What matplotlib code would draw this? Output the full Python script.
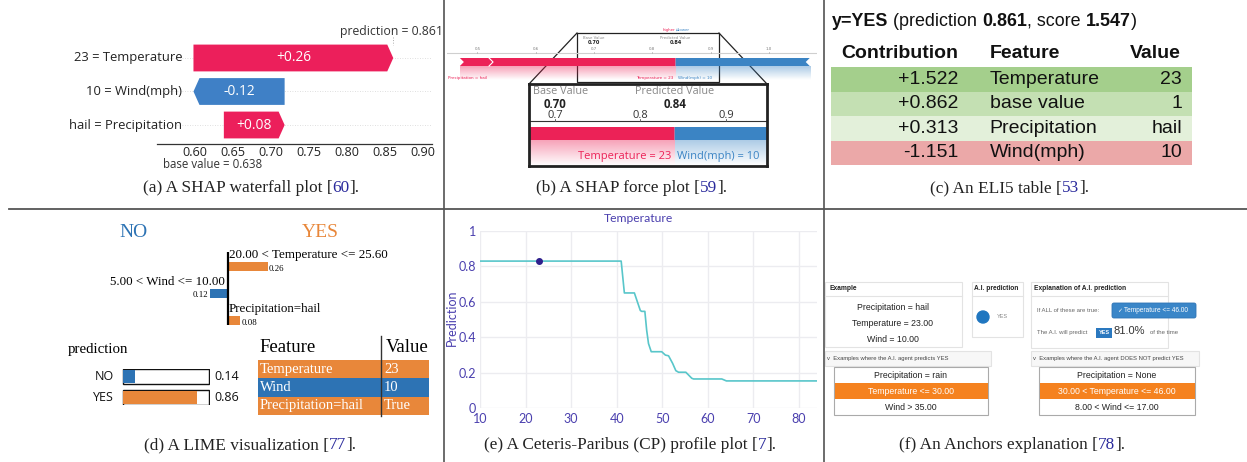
import numpy as np
import matplotlib
matplotlib.use("Agg")
import matplotlib.pyplot as plt
import matplotlib.colors as mcolors
from matplotlib.patches import Polygon, Rectangle, FancyBboxPatch, Circle
from matplotlib.transforms import Bbox

# ======================= DATA =======================
# (a) SHAP waterfall
wf_features = ["Temperature", "Wind(mph)", "Precipitation"]
wf_values = ["23", "10", "hail"]
wf_shap = [0.263, -0.12, 0.08]
wf_base = 0.638
wf_ticks = [0.60, 0.65, 0.70, 0.75, 0.80, 0.85, 0.90]

# (b) SHAP force plot
fp_base = 0.70
fp_pred = 0.84
fp_pos_labels = ["Precipitation = hail", "Temperature = 23"]
fp_pos_effects = [0.05, 0.32]
fp_neg_labels = ["Wind(mph) = 10"]
fp_neg_effects = [0.23]
fp_ticks = [0.5, 0.6, 0.7, 0.8, 0.9, 1.0]
fp_zoom_ticks = [0.7, 0.8, 0.9]

# (c) ELI5 table
eli5_prediction = 0.861
eli5_score = 1.547
eli5_contrib = [1.522, 0.862, 0.313, -1.151]
eli5_features = ["Temperature", "base value", "Precipitation", "Wind(mph)"]
eli5_values = ["23", "1", "hail", "10"]

# (d) LIME
lime_classes = ["NO", "YES"]
lime_proba = [0.14, 0.86]
lime_labels = ["20.00 < Temperature <= 25.60", "5.00 < Wind <= 10.00", "Precipitation=hail"]
lime_weights = [0.26, -0.12, 0.08]
lime_table_features = ["Temperature", "Wind", "Precipitation=hail"]
lime_table_values = ["23", "10", "True"]

# (e) Ceteris-Paribus profile
cp_temperature = [10.0, 41.0, 41.7, 43.9, 45.2, 45.5, 46.2, 46.6, 47.0, 47.6, 49.9,
                  50.7, 51.4, 52.3, 53.0, 53.6, 55.2, 56.5, 56.9, 63.1, 64.1, 84.0]
cp_prediction = [0.83, 0.83, 0.65, 0.65, 0.551, 0.546, 0.546, 0.439, 0.364, 0.318, 0.318,
                 0.299, 0.295, 0.252, 0.211, 0.202, 0.202, 0.168, 0.164, 0.164, 0.153, 0.153]
cp_obs_x = 23
cp_obs_y = 0.83
cp_xticks = [10, 20, 30, 40, 50, 60, 70, 80]
cp_yticks = [0, 0.2, 0.4, 0.6, 0.8, 1]

# (f) Anchors
anc_example = ["Precipitation = hail", "Temperature = 23.00", "Wind = 10.00"]
anc_prediction = "YES"
anc_anchor = "Temperature <= 46.00"
anc_precision = 81.0
anc_yes_examples = ["Precipitation = rain", "Temperature <= 30.00", "Wind > 35.00"]
anc_no_examples = ["Precipitation = None", "30.00 < Temperature <= 46.00", "8.00 < Wind <= 17.00"]
anc_highlight = 1

captions = [
    ("(a) A SHAP waterfall plot [", "60", "].", 251, 188),
    ("(b) A SHAP force plot [", "59", "].", 632, 188),
    ("(c) An ELI5 table [", "53", "].", 1010, 188),
    ("(d) A LIME visualization [", "77", "].", 250, 445),
    ("(e) A Ceteris-Paribus (CP) profile plot [", "7", "].", 630, 445),
    ("(f) An Anchors explanation [", "78", "].", 1012, 445),
]

# ======================= SETUP =======================
W, H = 1247, 462
fig = plt.figure(figsize=(W / 100, H / 100), dpi=100)
renderer = fig.canvas.get_renderer()


def fx(x):
    return x / W


def fy(y):
    return 1 - y / H


def add_ax(x0, y0, x1, y1):
    return fig.add_axes([x0 / W, 1 - y1 / H, (x1 - x0) / W, (y1 - y0) / H])


def text_width(s, **props):
    t = fig.text(0, 0, "|" + s + "|", **props)
    w1 = t.get_window_extent(renderer).width
    t.set_text("||")
    w2 = t.get_window_extent(renderer).width
    t.remove()
    return w1 - w2


def rich(parts, x, y, ha="center", va="center", **common):
    widths = [text_width(s, **{**common, **p}) for s, p in parts]
    total = sum(widths)
    cur = x - total / 2 if ha == "center" else (x if ha == "left" else x - total)
    for (s, p), w in zip(parts, widths):
        fig.text(fx(cur), fy(y), s, ha="left", va=va, **{**common, **p})
        cur += w


canvas = add_ax(0, 0, W, H)
canvas.set_xlim(0, W)
canvas.set_ylim(H, 0)
canvas.axis("off")

# dividers
canvas.plot([444, 444], [0, H], color="#444", lw=1.1)
canvas.plot([824, 824], [0, H], color="#444", lw=1.1)
canvas.plot([9, W], [209, 209], color="#555", lw=1.3)

# captions
CITE = "#2a2a9c"
for pre, num, post, cx, cy in captions:
    rich([(pre, {}), (num, {"color": CITE}), (post, {})], cx, cy,
         family="Liberation Serif", fontsize=12.4, color="#222")

# ======================= (a) SHAP waterfall =======================
RED = "#ec1f5b"
BLUE = "#3f80c6"
axa = add_ax(157, 40, 432, 143.5)
axa.set_xlim(0.55, 0.912)
axa.set_ylim(2.552, -0.537)
axa.patch.set_alpha(0)
for s in ["top", "left", "right"]:
    axa.spines[s].set_visible(False)
axa.spines["bottom"].set_color("#333")
axa.spines["bottom"].set_linewidth(0.9)
axa.set_yticks([])
axa.set_xticks(wf_ticks)
axa.set_xticklabels([f"{t:.2f}" for t in wf_ticks], fontsize=9.1, family="Open Sans", color="#222")
axa.tick_params(axis="x", length=0, pad=2)
px_a = 0.362 / 275
hl = 6 * px_a
bh = 0.8
cur = wf_base
starts, ends = [0] * 3, [0] * 3
for i in reversed(range(len(wf_shap))):
    starts[i] = cur
    cur += wf_shap[i]
    ends[i] = cur
wf_pred = cur
for i in range(len(wf_shap)):
    x0, x1 = starts[i], ends[i]
    d = np.sign(x1 - x0) * min(hl, abs(x1 - x0))
    poly = [(x0, i - bh / 2), (x1 - d, i - bh / 2), (x1, i), (x1 - d, i + bh / 2), (x0, i + bh / 2)]
    axa.add_patch(Polygon(poly, closed=True, fc=RED if x1 > x0 else BLUE, ec="none", zorder=2))
    axa.text((x0 + x1) / 2, i, f"{wf_shap[i]:+.2f}", ha="center", va="center", color="white",
             fontsize=9.9, family="Open Sans", zorder=3)
    axa.axhline(i, color="#d5d5d5", lw=0.6, ls=(0, (1, 2)), zorder=0)
    axa.text(0.583, i, f"{wf_values[i]} = {wf_features[i]}", ha="right", va="center",
             fontsize=9.4, family="Open Sans", color="#222", zorder=3)
axa.plot([wf_pred, wf_pred], [-0.62, -0.4], color="#aaa", lw=0.7, ls=":", clip_on=False)
t = fig.text(fx(340), fy(32), f"prediction = {wf_pred:.3f}", ha="left", va="center",
             fontsize=8.8, family="Open Sans", color="#333")
t.set_clip_box(Bbox([[0, 0], [441, H]]))
t.set_clip_on(True)
fig.text(fx(163), fy(164), f"base value = {wf_base:.3f}", ha="left", va="center",
         fontsize=8.3, family="Open Sans", color="#333")

# ======================= (b) SHAP force =======================
FRED = "#ec2257"
FBLUE = "#3b84c4"


def gradient(ax, x0, x1, ytop, ybot, color, a0=0.42):
    rgb = mcolors.to_rgb(color)
    n = 60
    arr = np.zeros((n, 1, 4))
    arr[..., :3] = rgb
    arr[:, 0, 3] = np.linspace(a0, 0, n)
    ax.imshow(arr, extent=(x0, x1, ybot, ytop), origin="upper", aspect="auto",
              interpolation="bilinear", zorder=1)


def force_bars(ax, ytop, ybot, grad_bot, notch):
    ymid = (ytop + ybot) / 2
    left = fp_pred - sum(fp_pos_effects)
    right = fp_pred + sum(fp_neg_effects)
    ax.add_patch(Polygon([(left, ytop), (fp_pred, ytop), (fp_pred, ybot), (left, ybot),
                          (left + notch, ymid)], closed=True, fc=FRED, ec="none", zorder=2))
    ax.add_patch(Polygon([(fp_pred, ytop), (right, ytop), (right - notch, ymid), (right, ybot),
                          (fp_pred, ybot)], closed=True, fc=FBLUE, ec="none", zorder=2))
    b = left
    for e in fp_pos_effects[:-1]:
        b += e
        ax.plot([b, b + notch, b], [ytop, ymid, ybot], color="white", lw=0.8, zorder=3)
    gradient(ax, left, fp_pred, ybot, grad_bot, FRED)
    gradient(ax, fp_pred, right, ybot, grad_bot, FBLUE)


axb = add_ax(447, 25, 817, 86)
xlb = (0.4479, 1.0825)
axb.axis("off")
force_bars(axb, 58, 66, 80, 4 / 583)
axb.plot(xlb, [53, 53], color="#cfcfcf", lw=0.8)
for tk in fp_ticks:
    axb.plot([tk, tk], [51.5, 53], color="#aaa", lw=0.5)
    axb.text(tk, 49, f"{tk:.1f}", ha="center", va="center", fontsize=2.8, color="#777")
axb.text(xlb[0] + 0.002, 78, fp_pos_labels[0], ha="left", va="center", fontsize=3.0, color=FRED)
axb.text(fp_pred - 0.004, 78, fp_pos_labels[1], ha="right", va="center", fontsize=3.0, color=FRED)
axb.text(fp_pred + 0.004, 78, fp_neg_labels[0], ha="left", va="center", fontsize=3.0, color=FBLUE)
axb.text(fp_base, 38, "Base Value", ha="center", va="center", fontsize=2.8, color="#888")
axb.text(fp_base, 43, f"{fp_base:.2f}", ha="center", va="center", fontsize=3.6, weight="bold", color="#222")
axb.text(fp_pred, 38, "Predicted Value", ha="center", va="center", fontsize=2.8, color="#888")
axb.text(fp_pred, 43, f"{fp_pred:.2f}", ha="center", va="center", fontsize=3.6, weight="bold", color="#222")
axb.text(fp_pred, 30, "higher", ha="right", va="center", fontsize=2.8, color=FRED)
axb.text(fp_pred, 30, "\u21c4lower", ha="left", va="center", fontsize=2.8, color=FBLUE)
axb.set_xlim(*xlb)
axb.set_ylim(86, 25)

# zoom indicator
canvas.add_patch(Rectangle((577, 33), 142, 49, fc="none", ec="#222", lw=0.9))
canvas.plot([577, 529], [33, 84], color="#222", lw=0.9)
canvas.plot([719, 767], [33, 84], color="#222", lw=0.9)

axz = add_ax(529, 84, 767, 166)
xlz = (0.6696, 0.948)
axz.set_xticks([])
axz.set_yticks([])
for s in axz.spines.values():
    s.set_linewidth(2)
    s.set_color("#222")
force_bars(axz, 127, 140, 166, 6 / 855)
axz.plot(xlz, [121, 121], color="#333", lw=0.8)
for tk in fp_zoom_ticks:
    axz.plot([tk, tk], [119, 121], color="#555", lw=0.6)
    axz.text(tk, 115.5, f"{tk:.1f}", ha="center", va="center", fontsize=8, family="Open Sans", color="#333")
axz.text(fp_base + 0.006, 92, "Base Value", ha="center", va="center", fontsize=7.8, family="Open Sans", color="#888")
axz.text(fp_base, 104, f"{fp_base:.2f}", ha="center", va="center", fontsize=8.3, family="Open Sans",
         weight="bold", color="#222")
axz.text(fp_pred, 92, "Predicted Value", ha="center", va="center", fontsize=7.8, family="Open Sans", color="#888")
axz.text(fp_pred, 104, f"{fp_pred:.2f}", ha="center", va="center", fontsize=8.3, family="Open Sans",
         weight="bold", color="#222")
axz.text(fp_pred - 0.004, 157, fp_pos_labels[1], ha="right", va="center", fontsize=8,
         family="Open Sans", color=FRED)
axz.text(fp_pred + 0.003, 157, fp_neg_labels[0], ha="left", va="center", fontsize=8,
         family="Open Sans", color=FBLUE)
axz.set_xlim(*xlz)
axz.set_ylim(166, 84)

# ======================= (c) ELI5 =======================
SANS = "Liberation Sans"
TFS = 14
rich([("y=YES", {"weight": "bold"}), (" (prediction ", {}), (f"{eli5_prediction:.3f}", {"weight": "bold"}),
      (", score ", {}), (f"{eli5_score:.3f}", {"weight": "bold"}), (")", {})],
     832, 21, ha="left", family=SANS, fontsize=12.9, color="#111")
fig.text(fx(958), fy(53), "Contribution", ha="right", va="center", family=SANS, fontsize=TFS,
         weight="bold", color="#111")
fig.text(fx(990), fy(53), "Feature", ha="left", va="center", family=SANS, fontsize=TFS,
         weight="bold", color="#111")
fig.text(fx(1181), fy(53), "Value", ha="right", va="center", family=SANS, fontsize=TFS,
         weight="bold", color="#111")
eli5_colors = ["#a4cf8c", "#c4e0b3", "#e3f0da", "#eba8a8"]
axc = add_ax(831, 67, 1192, 165)
axc.axis("off")
n = len(eli5_contrib)
axc.barh(range(n), [1] * n, left=0, height=1.0, color=eli5_colors)
for i in range(n):
    axc.text(0.352, i, f"{eli5_contrib[i]:+.3f}", ha="right", va="center", family=SANS, fontsize=TFS, color="#111")
    axc.text(0.44, i, eli5_features[i], ha="left", va="center", family=SANS, fontsize=TFS, color="#111")
    axc.text(0.972, i, eli5_values[i], ha="right", va="center", family=SANS, fontsize=TFS, color="#111")
axc.set_xlim(0, 1)
axc.set_ylim(n - 0.5, -0.5)

# ======================= (d) LIME =======================
SERIF = "Liberation Serif"
LORANGE = "#e8873a"
LBLUE = "#2d73b4"
fig.text(fx(133), fy(233), lime_classes[0], ha="center", va="center", family=SERIF, fontsize=14, color=LBLUE)
fig.text(fx(320), fy(233), lime_classes[1], ha="center", va="center", family=SERIF, fontsize=14, color=LORANGE)

axd = add_ax(150, 252, 330, 325)
axd.axis("off")
lw_colors = [LORANGE if w > 0 else LBLUE for w in lime_weights]
axd.barh(range(3), lime_weights, height=0.33, color=lw_colors)
axd.axvline(0, color="black", lw=1.6)
for i, (lab, w) in enumerate(zip(lime_labels, lime_weights)):
    if w > 0:
        axd.text(0.004, i - 0.43, lab, ha="left", va="center", family=SERIF, fontsize=9.4, color="black")
        axd.text(w + 0.008, i + 0.1, f"{abs(w):.2f}", ha="left", va="center", family=SERIF, fontsize=6.3)
    else:
        axd.text(-0.02, i - 0.43, lab, ha="right", va="center", family=SERIF, fontsize=9.4, color="black")
        axd.text(w - 0.008, i + 0.07, f"{abs(w):.2f}", ha="right", va="center", family=SERIF, fontsize=6.3)
axd.set_xlim(-0.51, 0.667)
axd.set_ylim(2.167, -0.537)

fig.text(fx(68), fy(350), "prediction", ha="left", va="center", family=SERIF, fontsize=10.7)
axp = add_ax(122, 369, 210, 405)
axp.axis("off")
axp.barh(range(2), [1, 1], height=0.71, color="white", edgecolor="#111", lw=1.0)
axp.barh(range(2), lime_proba, height=0.62, left=0.004, color=[LBLUE, LORANGE])
for i, (c, p) in enumerate(zip(lime_classes, lime_proba)):
    axp.text(-0.105, i, c, ha="right", va="center", family="Open Sans", fontsize=9, color="#111")
    axp.text(1.065, i, f"{p:.2f}", ha="left", va="center", family="Open Sans", fontsize=9, color="#111")
axp.set_xlim(-0.012, 1.012)
axp.set_ylim(1.357, -0.357)

fig.text(fx(259), fy(348), "Feature", ha="left", va="center", family=SERIF, fontsize=13.5)
fig.text(fx(386), fy(348), "Value", ha="left", va="center", family=SERIF, fontsize=13.5)
axt = add_ax(258, 360, 429, 415)
axt.axis("off")
axt.barh(range(3), [1, 1, 1], height=1.0, color=lw_colors)
for i, (f_, v_) in enumerate(zip(lime_table_features, lime_table_values)):
    axt.text(0.012, i, f_, ha="left", va="center", family=SERIF, fontsize=10.5, color="white")
    axt.text(0.737, i, v_, ha="left", va="center", family=SERIF, fontsize=10.5, color="white")
axt.plot([0.719, 0.719], [-1.81, 2.55], color="#333", lw=1.0, clip_on=False)
axt.set_xlim(0, 1)
axt.set_ylim(2.5, -0.5)

# ======================= (e) CP profile =======================
CPC = "#4a3fae"
axe = add_ax(480, 231, 817, 408)
axe.plot(cp_temperature, cp_prediction, color="#58c6ca", lw=1.2, zorder=3)
axe.plot([cp_obs_x], [cp_obs_y], "o", color="#2e1f8c", ms=4, zorder=4)
axe.set_xlim(10, 84)
axe.set_ylim(0, 1)
for s in axe.spines.values():
    s.set_visible(False)
axe.grid(True, color="#ececf0", lw=1.0)
axe.set_axisbelow(True)
axe.set_xticks(cp_xticks)
axe.set_yticks(cp_yticks)
axe.set_yticklabels([("%g" % v) for v in cp_yticks])
axe.tick_params(length=0, labelsize=9, labelcolor=CPC)
axe.tick_params(axis="y", pad=3)
axe.tick_params(axis="x", pad=3.5)
for lab in axe.get_xticklabels() + axe.get_yticklabels():
    lab.set_family("Lato")
fig.text(fx(638), fy(219), "Temperature", ha="center", va="center", family="Lato", fontsize=8.7, color=CPC)
fig.text(fx(452), fy(318), "Prediction", ha="center", va="center", rotation=90, family="Lato",
         fontsize=9, color=CPC)

# ======================= (f) Anchors =======================
GRAYT = "#666"
BORDER = "#e3e3e3"
ORANGE = "#f5821f"
ABLUE = "#3a86c8"


def box(x0, y0, x1, y1, fc="white", ec=BORDER, lw=0.8):
    canvas.add_patch(Rectangle((x0, y0), x1 - x0, y1 - y0, fc=fc, ec=ec, lw=lw))


def ctext(x, y, s, size, ha="left", color="#222", weight="normal", family=SANS):
    canvas.text(x, y, s, ha=ha, va="center", fontsize=size, color=color, weight=weight, family=family)


# Example
box(825, 282, 962, 347)
canvas.plot([825, 962], [296, 296], color=BORDER, lw=0.8)
ctext(829, 289, "Example", 4.8, weight="bold")
for k, s in enumerate(anc_example):
    ctext(893, 307 + 16 * k, s, 6.3, ha="center")
# AI prediction
box(972, 282, 1023, 337)
canvas.plot([972, 1023], [296, 296], color=BORDER, lw=0.8)
ctext(974, 289, "A.I. prediction", 4.8, weight="bold")
canvas.add_patch(Circle((983, 317), 6, color="#1f76c0"))
ctext(997, 317, anc_prediction, 4.0, color="#888")
# Explanation
box(1031, 282, 1168, 348)
canvas.plot([1031, 1168], [296, 296], color=BORDER, lw=0.8)
ctext(1034, 289, "Explanation of A.I. prediction", 4.8, weight="bold")
ctext(1037, 311, "If ALL of these are true:", 4.3, color=GRAYT)
canvas.add_patch(FancyBboxPatch((1112, 303), 84, 15, boxstyle="round,pad=0,rounding_size=2",
                                fc=ABLUE, ec="#2f74b5", lw=0.6))
ctext(1117, 310.5, "\u2713", 4.3, color="white", family="DejaVu Sans")
ctext(1124, 310.5, anc_anchor, 4.7, color="white")
ctext(1037, 332.5, "The A.I. will predict", 4.3, color=GRAYT)
canvas.add_patch(Rectangle((1096, 328), 16, 9.5, fc="#2a78bf", ec="none"))
ctext(1104, 332.8, anc_prediction, 4.0, ha="center", color="white", weight="bold")
ctext(1114, 331.5, f"{anc_precision:.1f}%", 8.0, color="#333")
ctext(1150, 333, "of the time", 4.3, color=GRAYT)

# Example tables
for (hx0, hx1, tx0, tx1, title, rows) in [
        (825, 991, 834, 988, "v  Examples where the A.I. agent predicts YES", anc_yes_examples),
        (1031, 1199, 1039, 1195, "v  Examples where the A.I. agent DOES NOT predict YES", anc_no_examples)]:
    box(hx0, 351, hx1, 366, fc="#f7f7f7")
    ctext(hx0 + 2, 358.5, title, 4.2, color="#444")
    box(tx0, 367, tx1, 415, ec="#aaaaaa")
    cx = (tx0 + tx1) / 2
    for k, s in enumerate(rows):
        yk = 367 + 16 * k
        if k == anc_highlight:
            canvas.add_patch(Rectangle((tx0 + 0.5, yk), tx1 - tx0 - 1, 16, fc=ORANGE, ec="none"))
            ctext(cx, yk + 8, s, 6.3, ha="center", color="white")
        else:
            ctext(cx, yk + 8, s, 6.3, ha="center")

fig.savefig("out.png", dpi=100)
